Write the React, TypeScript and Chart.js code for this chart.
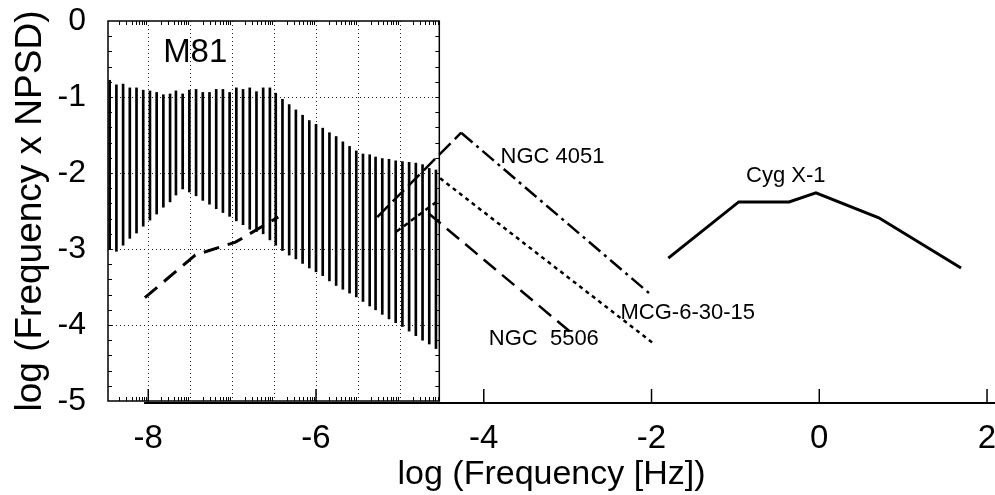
import React, { useEffect, useRef } from "react";
import { Chart, registerables } from "chart.js";

Chart.register(...registerables);

// ---------- data ----------
const m81Freq = [
  -8.46, -8.38, -8.3, -8.22, -8.14, -8.06, -7.98, -7.9, -7.82, -7.74,
  -7.67, -7.59, -7.51, -7.43, -7.35, -7.27, -7.19, -7.11, -7.03, -6.95,
  -6.87, -6.79, -6.71, -6.63, -6.55, -6.48, -6.4, -6.32, -6.24, -6.16,
  -6.08, -6.0, -5.92, -5.84, -5.76, -5.68, -5.6, -5.52, -5.44, -5.36,
  -5.29, -5.21, -5.13, -5.05, -4.97, -4.89, -4.81, -4.73, -4.65, -4.57,
];
const m81Top = [
  -0.78, -0.84, -0.83, -0.88, -0.88, -0.91, -0.92, -0.94, -0.97, -0.96,
  -0.92, -0.96, -0.91, -0.9, -0.94, -0.94, -0.9, -0.9, -0.94, -0.88,
  -0.9, -0.88, -0.93, -0.88, -0.88, -0.95, -1.03, -1.1, -1.17, -1.24,
  -1.31, -1.36, -1.41, -1.47, -1.52, -1.59, -1.65, -1.71, -1.75, -1.76,
  -1.79, -1.81, -1.82, -1.84, -1.85, -1.86, -1.87, -1.89, -1.94, -1.96,
];
const m81Bottom = [
  -3.0, -3.03, -2.95, -2.86, -2.79, -2.7, -2.62, -2.54, -2.45, -2.38,
  -2.29, -2.21, -2.25, -2.3, -2.36, -2.41, -2.47, -2.52, -2.57, -2.63,
  -2.68, -2.74, -2.77, -2.8, -2.88, -2.95, -3.02, -3.08, -3.13, -3.19,
  -3.25, -3.3, -3.35, -3.42, -3.48, -3.53, -3.58, -3.63, -3.69, -3.75,
  -3.8, -3.86, -3.92, -3.97, -4.02, -4.08, -4.14, -4.2, -4.25, -4.31,
];

const m81ModelX = [-8.04, -7.44, -6.96, -6.45];
const m81ModelY = [-3.64, -3.08, -2.91, -2.58];

const ngc4051RiseX = [-5.27, -4.27];
const ngc4051RiseY = [-2.58, -1.47];
const ngc4051FallX = [-4.27, -2.03];
const ngc4051FallY = [-1.47, -3.58];

const mcgRiseX = [-5.04, -4.54];
const mcgRiseY = [-2.77, -2.36];
const mcgFallX = [-4.52, -1.98];
const mcgFallY = [-2.07, -4.24];

const ngc5506FallX = [-4.66, -2.97];
const ngc5506FallY = [-2.53, -4.09];

const cygX = [-1.8, -0.96, -0.36, -0.04, 0.71, 1.69];
const cygY = [-3.12, -2.38, -2.38, -2.26, -2.59, -3.25];

const xTickValues = [-8, -6, -4, -2, 0, 2];
const yTickValues = [0, -1, -2, -3, -4, -5];
const insetGridX = [-8, -7.5, -7, -6.5, -6, -5.5, -5];
const insetGridY = [-1, -2, -3, -4];
const insetRangeX = [-8.48, -4.53];

const labelTexts = ["M81", "NGC 4051", "Cyg X-1", "MCG-6-30-15", "NGC  5506"];
const labelX = [-7.44, -3.8, -0.4, -2.37, -3.94];
const labelY = [-0.42, -1.79, -2.04, -3.84, -4.18];
const labelSize = [33, 22, 22, 22, 22];
const labelAlign = ["center", "left", "center", "left", "left"];

// ---------- helpers ----------
const FONT = "'Liberation Sans', Arial, Helvetica, sans-serif";

const pts = (xs: number[], ys: number[]) => xs.map((x, i) => ({ x, y: ys[i] }));

const lineDs = (xs: number[], ys: number[], width: number, dash: number[]) => ({
  type: "line" as const,
  data: pts(xs, ys),
  borderColor: "#000",
  borderWidth: width,
  borderDash: dash,
  pointRadius: 0,
  fill: false,
  tension: 0,
  order: 1,
});

const zeroPad = (s: any) => {
  s.paddingLeft = 0;
  s.paddingRight = 0;
  s.paddingTop = 0;
  s.paddingBottom = 0;
};

const framePlugin = {
  id: "insetFrame",
  beforeDatasetsDraw(chart: any) {
    const { ctx, chartArea, scales } = chart;
    const x = scales.x;
    const y = scales.y;
    const L = x.getPixelForValue(insetRangeX[0]);
    const R = x.getPixelForValue(insetRangeX[1]);
    const T = y.getPixelForValue(0);
    const B = y.getPixelForValue(-5);
    ctx.save();
    // dotted grid
    ctx.strokeStyle = "#222";
    ctx.lineWidth = 1;
    ctx.setLineDash([1, 3]);
    insetGridX.forEach((v) => {
      const px = Math.round(x.getPixelForValue(v)) + 0.5;
      ctx.beginPath();
      ctx.moveTo(px, T);
      ctx.lineTo(px, B);
      ctx.stroke();
    });
    insetGridY.forEach((v) => {
      const py = Math.round(y.getPixelForValue(v)) + 0.5;
      ctx.beginPath();
      ctx.moveTo(L, py);
      ctx.lineTo(R, py);
      ctx.stroke();
    });
    ctx.setLineDash([]);
    // minor ticks (log style) top & bottom
    ctx.lineWidth = 1;
    ctx.strokeStyle = "#000";
    for (let d = -9; d <= -4.5; d += 0.5) {
      for (let k = 2; k <= 9; k++) {
        const v = d + 0.5 * Math.log10(k);
        if (v <= insetRangeX[0] || v >= insetRangeX[1]) continue;
        const px = Math.round(x.getPixelForValue(v)) + 0.5;
        ctx.beginPath();
        ctx.moveTo(px, B);
        ctx.lineTo(px, B - 4);
        ctx.moveTo(px, T);
        ctx.lineTo(px, T + 4);
        ctx.stroke();
      }
    }
    // minor ticks left & right
    for (let v = -4.8; v < 0; v += 0.2) {
      const py = Math.round(y.getPixelForValue(v)) + 0.5;
      ctx.beginPath();
      ctx.moveTo(L, py);
      ctx.lineTo(L + 4, py);
      ctx.moveTo(R, py);
      ctx.lineTo(R - 4, py);
      ctx.stroke();
    }
    // inset border
    ctx.lineWidth = 1.5;
    ctx.strokeRect(L, T, R - L, B - T);
    // main x axis
    const yb = B + 2;
    ctx.lineWidth = 2;
    ctx.beginPath();
    ctx.moveTo(x.getPixelForValue(-8.05), yb);
    ctx.lineTo(chartArea.right, yb);
    ctx.stroke();
    ctx.lineWidth = 1.5;
    xTickValues.forEach((v) => {
      const px = x.getPixelForValue(v);
      ctx.beginPath();
      ctx.moveTo(px, yb);
      ctx.lineTo(px, yb - 14);
      ctx.stroke();
    });
    ctx.restore();
  },
  afterDatasetsDraw(chart: any) {
    const { ctx, scales } = chart;
    ctx.save();
    ctx.fillStyle = "#000";
    ctx.textBaseline = "middle";
    labelTexts.forEach((t, i) => {
      ctx.font = `${labelSize[i]}px ${FONT}`;
      ctx.textAlign = labelAlign[i] as CanvasTextAlign;
      ctx.fillText(t, scales.x.getPixelForValue(labelX[i]), scales.y.getPixelForValue(labelY[i]));
    });
    ctx.restore();
  },
};

export default function App() {
  const ref = useRef<HTMLCanvasElement | null>(null);
  useEffect(() => {
    if (!ref.current) return;
    const chart = new Chart(ref.current, {
      type: "line",
      data: {
        datasets: [
          {
            type: "bar" as const,
            data: m81Freq.map((f, i) => ({ x: f, y: [m81Bottom[i], m81Top[i]] })) as any,
            backgroundColor: "#000",
            borderWidth: 0,
            barThickness: 2,
            grouped: false,
            order: 2,
          } as any,
          lineDs(m81ModelX, m81ModelY, 3, [16, 9]),
          lineDs(ngc4051RiseX, ngc4051RiseY, 2.5, [16, 6]),
          lineDs(ngc4051FallX, ngc4051FallY, 2.5, [15, 5, 3, 5]),
          lineDs(mcgRiseX, mcgRiseY, 2.5, [5, 4]),
          lineDs(mcgFallX, mcgFallY, 2.5, [4, 4]),
          lineDs(ngc5506FallX, ngc5506FallY, 2.5, [16, 8]),
          lineDs(cygX, cygY, 3, []),
        ],
      },
      options: {
        responsive: false,
        animation: false,
        devicePixelRatio: 1,
        layout: { padding: { top: 21, right: 0, left: 0, bottom: 0 } },
        plugins: { legend: { display: false }, tooltip: { enabled: false } },
        scales: {
          x: {
            type: "linear",
            offset: false,
            min: -8.48,
            max: 2.095,
            grid: { display: false, drawTicks: false, offset: false },
            border: { display: false },
            ticks: { font: { size: 33, family: FONT }, color: "#000", padding: 18, maxRotation: 0 },
            afterBuildTicks: (s: any) => {
              s.ticks = xTickValues.map((v) => ({ value: v }));
            },
            afterFit: (s: any) => {
              s.height = 94;
              zeroPad(s);
            },
            title: {
              display: true,
              text: "log (Frequency [Hz])",
              font: { size: 34, family: FONT },
              color: "#000",
              padding: { top: 0, bottom: 0 },
            },
          },
          y: {
            type: "linear",
            min: -5,
            max: 0,
            grid: { display: false, drawTicks: false },
            border: { display: false },
            ticks: { font: { size: 32, family: FONT }, color: "#000", padding: 22 },
            afterBuildTicks: (s: any) => {
              s.ticks = yTickValues.map((v) => ({ value: v }));
            },
            afterFit: (s: any) => {
              s.width = 108;
              zeroPad(s);
            },
            title: {
              display: true,
              text: "log (Frequency x NPSD)",
              font: { size: 37, family: FONT },
              color: "#000",
              padding: { top: 9, bottom: 0 },
            },
          },
        },
      },
      plugins: [framePlugin],
    });
    return () => chart.destroy();
  }, []);
  return (
    <div style={{ position: "absolute", left: 0, top: 0, width: 995, height: 495, background: "#fff" }}>
      <canvas ref={ref} width={995} height={495} />
    </div>
  );
}
